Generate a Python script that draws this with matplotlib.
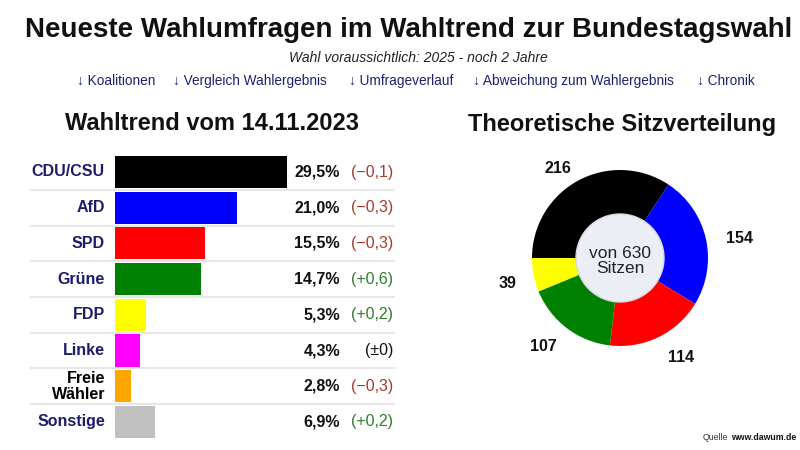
import numpy as np
import matplotlib
matplotlib.use("Agg")
import matplotlib.pyplot as plt

plt.rcParams['font.family'] = ['Liberation Sans', 'DejaVu Sans']

parties = ['CDU/CSU', 'AfD', 'SPD', 'Grüne', 'FDP', 'Linke', 'Freie\nWähler', 'Sonstige']
shares = [29.5, 21.0, 15.5, 14.7, 5.3, 4.3, 2.8, 6.9]
changes = ['(−0,1)', '(−0,3)', '(−0,3)', '(+0,6)', '(+0,2)', '(±0)', '(−0,3)', '(+0,2)']
bar_colors = ['#000000', '#0000ff', '#ff0000', '#008000', '#ffff00', '#ff00ff', '#ffa500', '#c0c0c0']

seat_parties = ['CDU/CSU', 'AfD', 'SPD', 'Grüne', 'FDP']
seats = [216, 154, 114, 107, 39]
seat_colors = ['#000000', '#0000ff', '#ff0000', '#008000', '#ffff00']
total_seats = 630

links = ['↓ Koalitionen', '↓ Vergleich Wahlergebnis', '↓ Umfrageverlauf',
         '↓ Abweichung zum Wahlergebnis', '↓ Chronik']

W, H = 800, 450
fig = plt.figure(figsize=(8, 4.5), dpi=100)
fig.patch.set_facecolor('white')

def px(x, y):
    return x / W, 1 - y / H

# header
fig.text(*px(25, 30), 'Neueste Wahlumfragen im Wahltrend zur Bundestagswahl',
         fontsize=20, fontweight='bold', va='center', ha='left', color='#111111')
fig.text(*px(418, 58), 'Wahl voraussichtlich: 2025 - noch 2 Jahre', fontsize=10,
         style='italic', ha='center', va='center', color='#222222')
link_x = [77, 173, 349, 473, 697]
for x, t in zip(link_x, links):
    fig.text(*px(x, 85), t, fontsize=9.8, ha='left', va='baseline', color='#1a2370')

fig.text(*px(212, 124), 'Wahltrend vom 14.11.2023', fontsize=17, fontweight='bold',
         ha='center', va='center', color='#111111')
fig.text(*px(622, 124), 'Theoretische Sitzverteilung', fontsize=17, fontweight='bold',
         ha='center', va='center', color='#111111')

# bar chart
scale = 5.83  # px per percent
row_h = 35.7
x0_px, x1_px = 115, 395
top_px = 172 - row_h / 2
ax = fig.add_axes([x0_px / W, 1 - (top_px + 8 * row_h) / H,
                   (x1_px - x0_px) / W, 8 * row_h / H])
ax.set_xlim(0, (x1_px - x0_px) / scale)
ax.set_ylim(7.5, -0.5)
ax.axis('off')

y = np.arange(len(parties))
ax.barh(y, shares, height=0.9, color=bar_colors, edgecolor='none')
ax.hlines(y[:-1] + 0.5, (30 - x0_px) / scale, (395 - x0_px) / scale,
          color='#e3e3e3', linewidth=1.2, clip_on=False)

for i, (p, s, c) in enumerate(zip(parties, shares, changes)):
    lab_col = '#000000' if 'Freie' in p else '#1c1c6c'
    ax.text(-10 / scale, i, p, ha='right', va='center', fontsize=11.5,
            fontweight='bold', color=lab_col, linespacing=1.1, clip_on=False)
    ax.text((340 - x0_px) / scale, i, f'{s:.1f}%'.replace('.', ','), ha='right',
            va='center', fontsize=11.5, fontweight='bold', color='#111111')
    if c.startswith('(−'):
        cc = '#a83a2a'
    elif c.startswith('(+'):
        cc = '#2f7d2f'
    else:
        cc = '#111111'
    ax.text((393 - x0_px) / scale, i, c, ha='right', va='center', fontsize=11.5,
            color=cc, clip_on=False)

# donut
cx, cy, r = 620, 258, 90
half = 110
ax2 = fig.add_axes([(cx - half) / W, 1 - (cy + half) / H, 2 * half / W, 2 * half / H])
ax2.set_xlim(-half / r, half / r)
ax2.set_ylim(-half / r, half / r)
ax2.set_aspect('equal')
ax2.axis('off')
ax2.pie(seats, colors=seat_colors, startangle=180, counterclock=False, radius=1,
        wedgeprops=dict(width=0.5, edgecolor='none'))
ax2.add_patch(plt.Circle((0, 0), 0.5, facecolor='#eceef5', edgecolor='#d8d8e0', lw=1))
ax2.text(0, -0.03, f'von {total_seats}\nSitzen', ha='center', va='center',
         fontsize=12.5, color='#222222', linespacing=1.0)

label_pos = [(-0.70, 1.02), (1.36, 0.22), (0.69, -1.13), (-0.87, -1.0), (-1.28, -0.29)]
for s, (lx, ly) in zip(seats, label_pos):
    ax2.text(lx, ly, str(s), ha='center', va='center', fontsize=11.5,
             fontweight='bold', color='#111111', clip_on=False)

# source
fig.text(*px(796, 438), 'www.dawum.de', fontsize=6.3, fontweight='bold', ha='right',
         va='center', color='#111111')
fig.text(*px(728, 438), 'Quelle', fontsize=6.3, ha='right', va='center', color='#333333')

fig.savefig('out.png', dpi=100)
